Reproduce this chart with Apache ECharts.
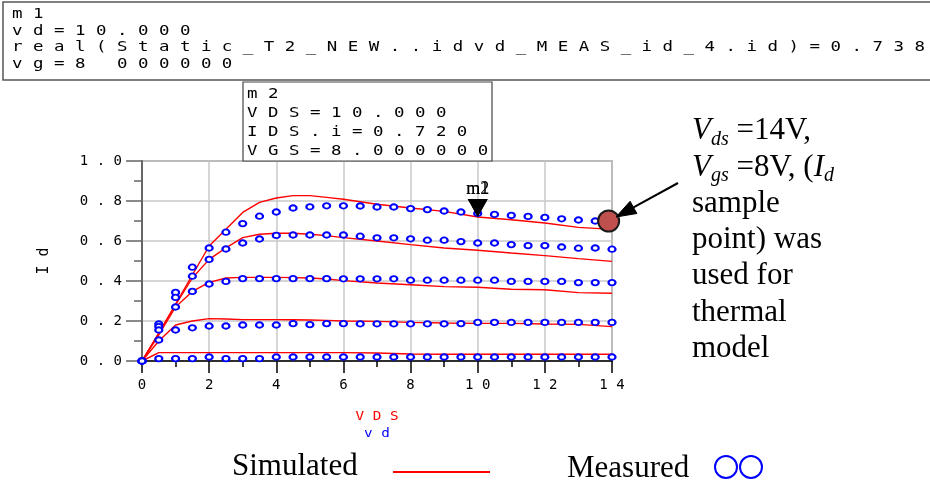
<!DOCTYPE html>
<html><head><meta charset="utf-8">
<script src="https://cdn.jsdelivr.net/npm/echarts@6/dist/echarts.min.js"></script>
<style>html,body{margin:0;padding:0;background:#fff}#c{width:930px;height:485px}</style>
</head><body><div id="c"></div>
<script>
// ---- data ----
const measX = [0,0.5,1,1.5,2,2.5,3,3.5,4,4.5,5,5.5,6,6.5,7,7.5,8,8.5,9,9.5,10,10.5,11,11.5,12,12.5,13,13.5,14];
const measA = [0,0.185,0.343,0.469,0.565,0.644,0.687,0.724,0.745,0.765,0.771,0.776,0.776,0.775,0.770,0.770,0.762,0.757,0.750,0.745,0.738,0.733,0.728,0.723,0.718,0.711,0.705,0.700,0.697];
const measB = [0,0.172,0.318,0.424,0.508,0.560,0.590,0.610,0.628,0.630,0.630,0.630,0.630,0.624,0.616,0.616,0.611,0.604,0.604,0.597,0.590,0.590,0.582,0.577,0.577,0.570,0.564,0.565,0.559];
const measC = [0,0.155,0.270,0.348,0.385,0.398,0.412,0.412,0.412,0.412,0.412,0.412,0.411,0.411,0.411,0.411,0.404,0.404,0.404,0.404,0.404,0.404,0.398,0.398,0.398,0.398,0.392,0.392,0.392];
const measD = [0,0.105,0.155,0.166,0.175,0.175,0.180,0.180,0.180,0.187,0.182,0.187,0.187,0.186,0.186,0.186,0.186,0.186,0.186,0.187,0.193,0.193,0.193,0.193,0.193,0.193,0.193,0.193,0.193];
const measE = [0,0.012,0.012,0.012,0.020,0.012,0.012,0.012,0.020,0.020,0.020,0.020,0.020,0.020,0.020,0.020,0.020,0.020,0.020,0.020,0.020,0.020,0.020,0.020,0.020,0.020,0.020,0.020,0.020];

const simX = [0,0.5,1,1.5,2,2.5,3,3.5,4,4.5,5,5.5,6,7,8,9,10,11,12,13,14];
const simA = [0,0.14,0.285,0.43,0.575,0.659,0.743,0.793,0.815,0.827,0.827,0.818,0.809,0.784,0.765,0.748,0.720,0.706,0.690,0.668,0.658];
const simB = [0,0.14,0.28,0.415,0.508,0.566,0.617,0.634,0.639,0.639,0.634,0.627,0.617,0.600,0.582,0.565,0.554,0.540,0.527,0.512,0.498];
const simC = [0,0.13,0.27,0.348,0.393,0.415,0.418,0.418,0.418,0.417,0.415,0.410,0.402,0.390,0.381,0.372,0.369,0.359,0.356,0.342,0.339];
const simD = [0,0.10,0.18,0.20,0.212,0.210,0.207,0.207,0.207,0.206,0.205,0.203,0.200,0.198,0.193,0.190,0.188,0.188,0.185,0.183,0.172];
const simE = [0,0.042,0.042,0.042,0.042,0.042,0.042,0.042,0.042,0.042,0.042,0.042,0.042,0.040,0.035,0.034,0.034,0.034,0.034,0.034,0.034];

const sampleVds = [13.9];
const sampleId = [0.70];
const markerVds = [10];
const markerId = [0.72];
const markerNames = ['m2', 'm1'];

const m1Lines = ['m1', 'vd=10.000', 'real(Static_T2_NEW..idvd_MEAS_id_4.id)=0.738', 'vg=8 000000'];
const m2Lines = ['m2', 'VDS=10.000', 'IDS.i=0.720', 'VGS=8.000000'];
const xName = ['VDS', 'vd'];
const yName = 'Id';
const noteText = '{v|V}{s|ds} =14V,\n{v|V}{s|gs} =8V, ({v|I}{s|d}\nsample\npoint) was\nused for\nthermal\nmodel';
const legendSim = 'Simulated';
const legendMeas = 'Measured';

// ---- helpers ----
const sp = s => s.split('').join(' ');
const pairs = (xs, ys) => xs.map((x, i) => [x, ys[i]]);
const MONO = '"DejaVu Sans Mono", "Liberation Mono", monospace';
const SERIF = '"Liberation Serif", "DejaVu Serif", serif';

const simSets = [simA, simB, simC, simD, simE];
const measSets = [measA, measB, measC, measD, measE];

const series = [];
simSets.forEach((ys, i) => {
  const s = {
    type: 'line', name: 'Simulated ' + (i + 1), data: pairs(simX, ys),
    showSymbol: false, symbol: 'none', z: 3,
    lineStyle: { color: '#ff0000', width: 1.4 }
  };
  if (i === 0) {
    s.markPoint = {
      symbol: 'triangle', symbolSize: [20, 18], symbolRotate: 180, symbolOffset: [0, -9],
      itemStyle: { color: '#000' },
      label: { show: true, position: 'top', distance: 1, formatter: '{b}', color: '#000',
               fontFamily: SERIF, fontSize: 18 },
      data: markerNames.map(n => ({ name: n, coord: [markerVds[0], markerId[0]] }))
    };
  }
  series.push(s);
});
measSets.forEach((ys, i) => {
  series.push({
    type: 'scatter', name: 'Measured ' + (i + 1), data: pairs(measX, ys),
    symbol: 'emptyCircle', symbolSize: [7, 5.5], z: 4,
    itemStyle: { color: '#0000ff', borderColor: '#0000ff', borderWidth: 1.2, opacity: 1 }
  });
});
series.push({
  type: 'scatter', name: 'Sample', data: pairs(sampleVds, sampleId),
  symbol: 'circle', symbolSize: 21, z: 6,
  itemStyle: { color: '#bf504d', borderColor: '#1a1a1a', borderWidth: 2, opacity: 1 }
});

const graphic = [];
// top marker readout box
graphic.push({ type: 'rect', shape: { x: 3, y: 2, width: 960, height: 78 },
  style: { fill: '#fff', stroke: '#555', lineWidth: 1.5 }, z: 1 });
const m1Y = [14, 31, 47.5, 64.5];
m1Lines.forEach((t, i) => graphic.push({
  type: 'text', x: 12, y: m1Y[i], scaleX: 1.245, z: 2,
  style: { text: sp(t), fontFamily: 'DejaVu Sans Mono', fontSize: 14, fill: '#000', verticalAlign: 'middle', align: 'left' }
}));
// m2 box
graphic.push({ type: 'rect', shape: { x: 243, y: 82, width: 249, height: 79 },
  style: { fill: '#fff', stroke: '#444', lineWidth: 1.2 }, z: 1 });
const m2Y = [94, 113, 132.5, 151];
m2Lines.forEach((t, i) => graphic.push({
  type: 'text', x: 247, y: m2Y[i], scaleX: 1.245, z: 2,
  style: { text: sp(t), fontFamily: 'DejaVu Sans Mono', fontSize: 14, fill: '#000', verticalAlign: 'middle', align: 'left' }
}));
// x-axis names
graphic.push({ type: 'text', x: 377, y: 417, scaleX: 1.1, z: 2,
  style: { text: sp(xName[0]), fontFamily: 'DejaVu Sans Mono', fontSize: 13, fill: '#ff0000', align: 'center', verticalAlign: 'middle' } });
graphic.push({ type: 'text', x: 377, y: 434, scaleX: 1.1, z: 2,
  style: { text: sp(xName[1]), fontFamily: 'DejaVu Sans Mono', fontSize: 13, fill: '#0000ff', align: 'center', verticalAlign: 'middle' } });
// annotation
graphic.push({ type: 'text', x: 692, y: 113, z: 5,
  style: {
    text: noteText, fontFamily: 'Liberation Serif', fontSize: 31, fill: '#000',
    lineHeight: 36.3, align: 'left', verticalAlign: 'top',
    rich: {
      v: { fontFamily: 'Liberation Serif', fontSize: 31, fontStyle: 'italic', fill: '#000', lineHeight: 36.3 },
      s: { fontFamily: 'Liberation Serif', fontSize: 20, fontStyle: 'italic', fill: '#000', lineHeight: 20, verticalAlign: 'bottom' }
    }
  } });
// arrow
graphic.push({ type: 'polyline', z: 7, shape: { points: [[678, 183], [633.5, 207.4]] },
  style: { stroke: '#000', lineWidth: 2, fill: null } });
graphic.push({ type: 'polygon', z: 7, shape: { points: [[616, 217], [636.9, 213.5], [630.1, 201.3]] },
  style: { fill: '#000', stroke: '#000', lineWidth: 1 } });
// bottom legend
graphic.push({ type: 'text', x: 232, y: 467, z: 5,
  style: { text: legendSim, fontFamily: 'Liberation Serif', fontSize: 31, fill: '#000', verticalAlign: 'middle', align: 'left' } });
graphic.push({ type: 'line', z: 5, shape: { x1: 393, y1: 472, x2: 490, y2: 472 },
  style: { stroke: '#ff0000', lineWidth: 2 } });
graphic.push({ type: 'text', x: 567, y: 469, z: 5,
  style: { text: legendMeas, fontFamily: 'Liberation Serif', fontSize: 31, fill: '#000', verticalAlign: 'middle', align: 'left' } });
graphic.push({ type: 'circle', z: 5, shape: { cx: 726, cy: 467, r: 11 },
  style: { fill: 'none', stroke: '#0000ff', lineWidth: 2 } });
graphic.push({ type: 'circle', z: 5, shape: { cx: 751, cy: 467, r: 11 },
  style: { fill: 'none', stroke: '#0000ff', lineWidth: 2 } });

const option = {
  animation: false,
  backgroundColor: '#fff',
  grid: { left: 142, top: 161, width: 470, height: 200, show: true,
          borderColor: '#777', borderWidth: 1.5, backgroundColor: 'transparent' },
  xAxis: {
    type: 'value', min: 0, max: 14, interval: 2,
    axisLine: { onZero: false, lineStyle: { color: '#000', width: 1.5 } },
    axisTick: { length: 12, lineStyle: { color: '#000', width: 1.5 } },
    minorTick: { show: true, splitNumber: 2, length: 6, lineStyle: { color: '#000', width: 1.5 } },
    splitLine: { show: true, lineStyle: { color: '#c8c8c8', width: 1.5 } },
    axisLabel: { fontFamily: MONO, fontSize: 14, color: '#000', margin: 17, formatter: v => sp(String(v)) }
  },
  yAxis: {
    type: 'value', min: 0, max: 1, interval: 0.2,
    name: sp(yName), nameLocation: 'middle', nameGap: 90,
    nameTextStyle: { fontFamily: MONO, fontSize: 15, color: '#000' },
    axisLine: { show: true, lineStyle: { color: '#666', width: 2 } },
    axisTick: { show: true, length: 16, lineStyle: { color: '#666', width: 1.5 } },
    minorTick: { show: true, splitNumber: 2, length: 8, lineStyle: { color: '#666', width: 1.5 } },
    splitLine: { show: true, lineStyle: { color: '#c8c8c8', width: 1.5 } },
    axisLabel: { fontFamily: MONO, fontSize: 14, color: '#000', margin: 20, formatter: v => sp(v.toFixed(1)) }
  },
  series: series,
  graphic: graphic
};
const chart = echarts.init(document.getElementById('c'), null, { renderer: 'canvas' });
chart.setOption(option);
</script>
</body></html>
